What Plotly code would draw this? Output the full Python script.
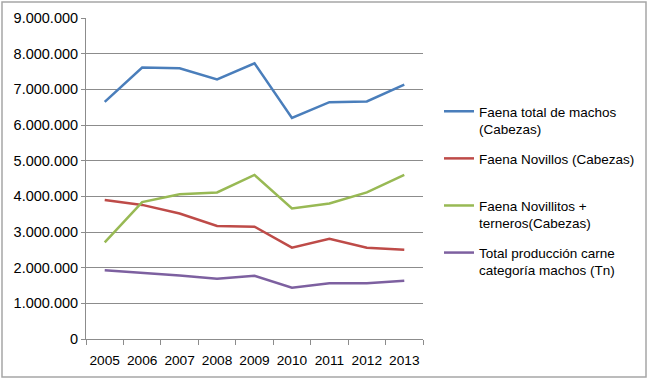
import plotly.graph_objects as go

years = ["2005", "2006", "2007", "2008", "2009", "2010", "2011", "2012", "2013"]
faena_total = [6650000, 7610000, 7590000, 7280000, 7730000, 6200000, 6640000, 6660000, 7130000]
faena_novillos = [3900000, 3760000, 3520000, 3170000, 3150000, 2560000, 2810000, 2560000, 2500000]
faena_novillitos = [2710000, 3840000, 4060000, 4110000, 4600000, 3660000, 3800000, 4110000, 4600000]
produccion_carne = [1930000, 1860000, 1780000, 1690000, 1770000, 1440000, 1560000, 1560000, 1630000]

series_names = [
    "Faena total de machos<br>(Cabezas)",
    "Faena Novillos (Cabezas)<br> ",
    "Faena Novillitos +<br>terneros(Cabezas)",
    "Total producción carne<br>categoría machos (Tn)",
]
series_values = [faena_total, faena_novillos, faena_novillitos, produccion_carne]
colors = ["#4A7EBB", "#BE4B48", "#98B954", "#7D60A0"]
y_ticks = [0, 1000000, 2000000, 3000000, 4000000, 5000000, 6000000, 7000000, 8000000, 9000000]

W, H = 650, 382
ml, mr, mt, mb = 86, 227, 18, 43

fig = go.Figure()
for i, (name, vals, col) in enumerate(zip(series_names, series_values, colors)):
    fig.add_trace(go.Scatter(
        x=years, y=vals, name=name, mode="lines",
        line=dict(color=col, width=2.5),
        legendgroup=f"g{i}",
    ))

font = "Liberation Sans, Arial, sans-serif"
pw = W - ml - mr
ph = H - mt - mb

fig.update_layout(
    width=W, height=H,
    margin=dict(l=ml, r=mr, t=mt, b=mb, autoexpand=False),
    paper_bgcolor="white", plot_bgcolor="white",
    separators=",.",
    font=dict(family=font, size=13.5, color="#000000"),
    showlegend=True,
    legend=dict(
        x=(439 - ml) / pw, y=(H - mb - 96) / ph,
        xanchor="left", yanchor="top",
        traceorder="grouped", tracegroupgap=9,
        valign="top",
        font=dict(family=font, size=13.5, color="#000000"),
        bgcolor="rgba(0,0,0,0)",
        itemwidth=30,
    ),
    xaxis=dict(
        type="category",
        range=[-0.5, len(years) - 0.5],
        automargin=False,
        tickangle=0,
        showgrid=False,
        showline=True, linecolor="#8C8C8C", linewidth=1,
        ticks="outside", tickson="boundaries", ticklen=5, tickcolor="#8C8C8C",
        tickfont=dict(family=font, size=13.7, color="#000000"),
        ticklabelstandoff=9,
        fixedrange=True,
    ),
    yaxis=dict(
        range=[0, 9000000],
        automargin=False,
        tickvals=y_ticks,
        tickformat=",d",
        showgrid=True, gridcolor="#8C8C8C", gridwidth=1,
        showline=True, linecolor="#8C8C8C", linewidth=1,
        ticks="outside", ticklen=4, tickcolor="#8C8C8C",
        tickfont=dict(family=font, size=14.5, color="#000000"),
        zeroline=False,
        fixedrange=True,
    ),
    shapes=[dict(
        type="rect", xref="paper", yref="paper",
        x0=(2 - ml) / pw, x1=(646 - ml) / pw,
        y0=-(377 - (H - mb)) / ph, y1=1 + (mt - 2) / ph,
        line=dict(color="#A6A6A6", width=1.5),
        fillcolor="rgba(0,0,0,0)", layer="below",
    )],
)

fig.write_html("out.html", config={"displayModeBar": False},
               post_script="document.body.style.margin='0';")
